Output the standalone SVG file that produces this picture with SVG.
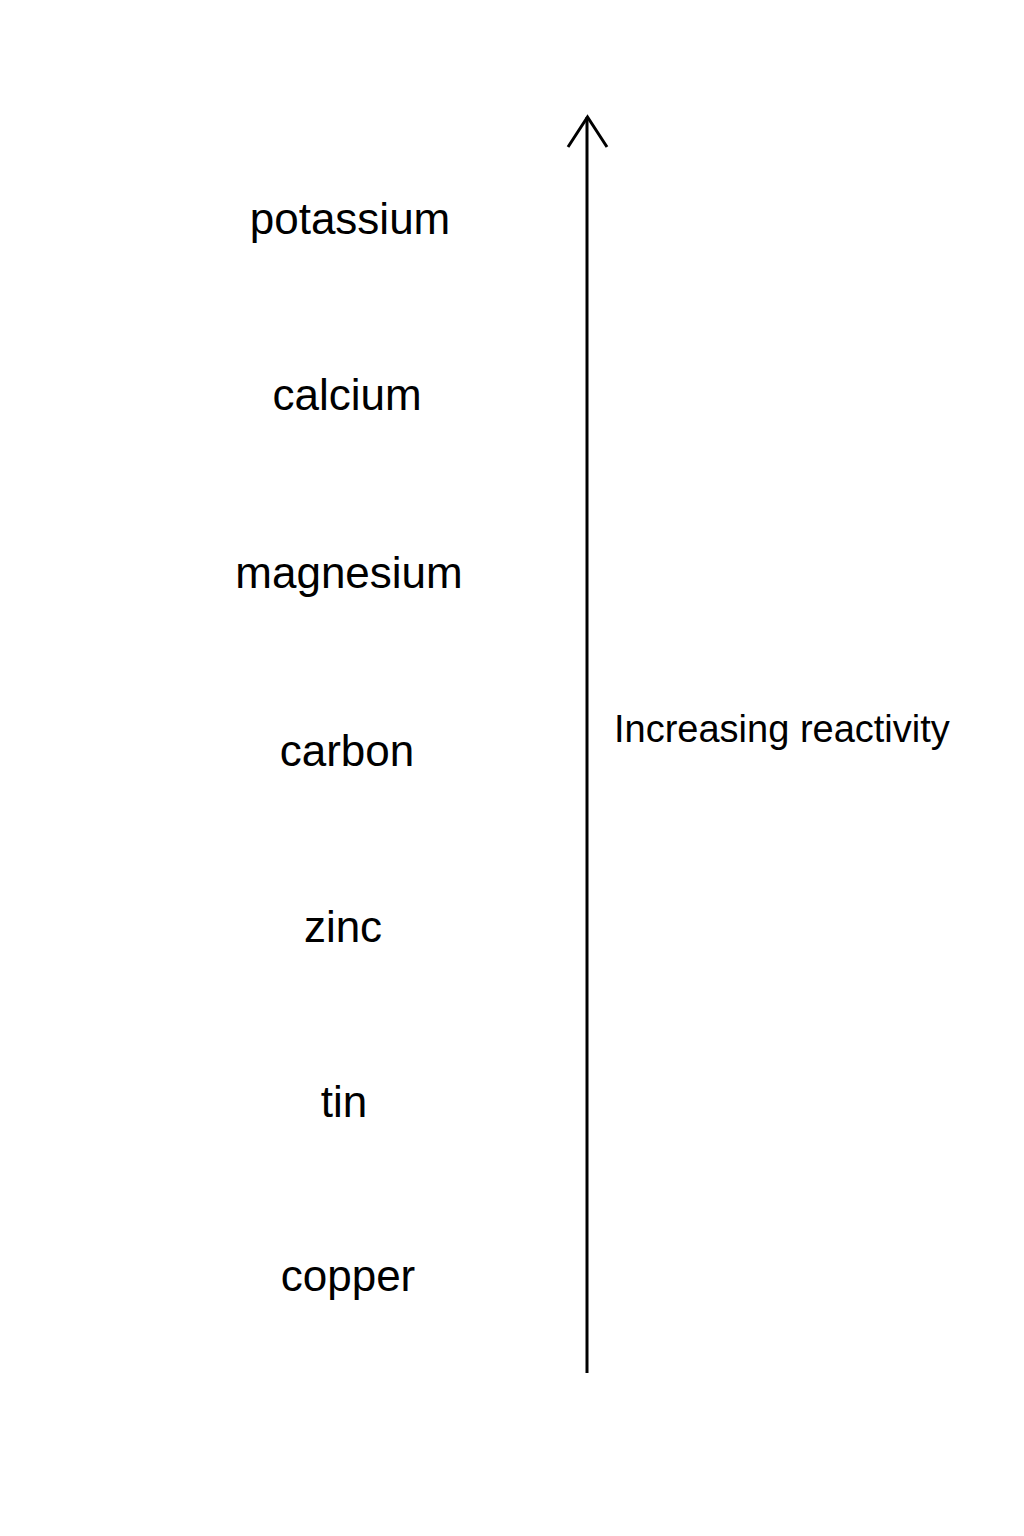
<svg xmlns="http://www.w3.org/2000/svg" width="1024" height="1536" viewBox="0 0 1024 1536">
<style>
.lbl{font-family:"Liberation Sans",Arial,sans-serif;font-size:44px;fill:#000;text-anchor:middle}
.axis{font-family:"Liberation Sans",Arial,sans-serif;font-size:38px;fill:#000}
.ln{stroke:#000;stroke-width:3;fill:none}
</style>
<rect width="1024" height="1536" fill="#fff"/>
<g id="potassium"><text class="lbl" x="350" y="234">potassium</text></g>
<g id="calcium"><text class="lbl" x="347" y="410">calcium</text></g>
<g id="magnesium"><text class="lbl" x="349" y="588">magnesium</text></g>
<g id="carbon"><text class="lbl" x="347" y="766">carbon</text></g>
<g id="zinc"><text class="lbl" x="343" y="942">zinc</text></g>
<g id="tin"><text class="lbl" x="344" y="1117">tin</text></g>
<g id="copper"><text class="lbl" x="348" y="1291">copper</text></g>
<g id="connectors">
<line class="ln" x1="587" y1="1373" x2="587" y2="117"/>
<polyline class="ln" points="568,147 587.5,117 607,147" stroke-linejoin="miter"/>
</g>
<g id="axis-label"><text class="axis" x="614" y="742">Increasing reactivity</text></g>
</svg>
